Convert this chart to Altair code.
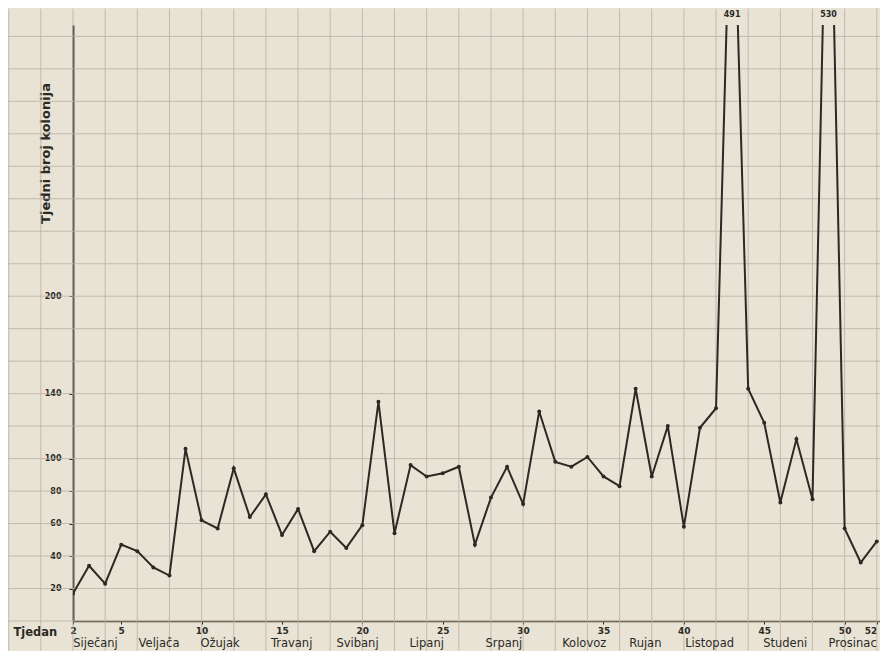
import altair as alt
import pandas as pd

# Weekly colony counts (weeks 2..52)
weeks = list(range(2, 53))
counts = [17, 34, 23, 47, 43, 33, 28, 106, 62, 57,
          94, 64, 78, 53, 69, 43, 55, 45, 59, 135,
          54, 96, 89, 91, 95, 47, 76, 95, 72, 129,
          98, 95, 101, 89, 83, 143, 89, 120, 58, 119,
          131, 491, 143, 122, 73, 112, 75, 530, 57, 36, 49]

y_ticks = [20, 40, 60, 80, 100, 140, 200]
x_ticks = [2, 5, 10, 15, 20, 25, 30, 35, 40, 45, 50, 52]

months = ["Siječanj", "Veljača", "Ožujak", "Travanj", "Svibanj", "Lipanj",
          "Srpanj", "Kolovoz", "Rujan", "Listopad", "Studeni", "Prosinac"]
month_weeks = [3.4, 7.35, 11.15, 15.6, 19.7, 24.0, 28.8, 33.8, 37.6, 41.6, 46.3, 50.5]

Y_MAX = 367
X_DOM = [2, 52.2]

df = pd.DataFrame({"week": weeks, "count": counts})
peaks = df[df["count"] > Y_MAX].copy()
peaks["label"] = peaks["count"].astype(str)
mdf = pd.DataFrame({"month": months, "week": month_weeks})

INK = "#2b2925"
GRID = "#b9b0a3"
FONT = "DejaVu Sans"

x_scale = alt.Scale(domain=X_DOM, nice=False, zero=False)
y_scale = alt.Scale(domain=[0, Y_MAX], nice=False)

x_axis = alt.Axis(values=x_ticks, title="Tjedan", grid=False, domain=True,
                  domainColor="#4a3a2c", domainWidth=1.6, tickColor=INK, tickSize=3,
                  labelFont=FONT, labelFontSize=9, labelFontWeight="bold", labelColor=INK,
                  labelPadding=2, labelFlush=False,
                  labelAlign={"condition": {"test": "datum.value == 52", "value": "right"},
                              "value": "center"},
                  titleFont=FONT, titleFontSize=11.5, titleFontWeight="bold",
                  titleColor=INK, titleX=-60, titleY=11, titleAlign="left",
                  titleBaseline="middle", titleAnchor="start")
y_axis = alt.Axis(values=y_ticks, title="Tjedni broj kolonija", grid=False, domain=True,
                  domainColor=INK, domainWidth=1.8, tickColor=INK, tickSize=4,
                  labelFont=FONT, labelFontSize=8, labelFontWeight="bold", labelColor=INK,
                  labelPadding=8, titleFont=FONT, titleFontSize=13, titleFontWeight="bold",
                  titleColor=INK, titleX=-28, titleY=128, titleAngle=270,
                  titleAlign="center", titleBaseline="middle")

base = alt.Chart(df)

# paper grid: every 2 weeks / every 20 colonies
vgrid = alt.Chart(pd.DataFrame({"week": list(range(-2, 53, 2))})).mark_rule(
    color=GRID, strokeWidth=0.8, clip=False
).encode(x=alt.X("week:Q", scale=x_scale), y=alt.datum(-20), y2=alt.datum(Y_MAX + 10))
hgrid = alt.Chart(pd.DataFrame({"v": list(range(-20, 361, 20))})).mark_rule(
    color=GRID, strokeWidth=0.8, clip=False
).encode(y=alt.Y("v:Q", scale=y_scale), x=alt.datum(-2.5), x2=alt.datum(52.6))

line = base.mark_line(color=INK, strokeWidth=2, clip=True).encode(
    x=alt.X("week:Q", scale=x_scale, axis=x_axis),
    y=alt.Y("count:Q", scale=y_scale, axis=y_axis),
)
pts = base.mark_circle(color=INK, size=16, opacity=1, clip=True).encode(
    x=alt.X("week:Q", scale=x_scale), y=alt.Y("count:Q", scale=y_scale)
)
peak_labels = alt.Chart(peaks).mark_text(
    font=FONT, fontSize=8, fontWeight="bold", color=INK, dy=-10, clip=False
).encode(x=alt.X("week:Q", scale=x_scale), y=alt.datum(Y_MAX), text="label:N")

month_labels = alt.Chart(mdf).mark_text(
    font=FONT, fontSize=11.5, color=INK, dy=23, baseline="middle", clip=False
).encode(x=alt.X("week:Q", scale=x_scale), y=alt.datum(0), text="month:N")

chart = alt.layer(vgrid, hgrid, line, pts, peak_labels, month_labels).properties(
    width=807, height=596,
    autosize=alt.AutoSizeParams(type="none"),
    padding={"left": 65, "top": 17, "right": 0, "bottom": 30},
    background="#e9e3d5",
).configure_view(stroke=None, fill="#e9e3d5")

chart.save("out.html", embed_options={"renderer": "svg", "actions": False})
